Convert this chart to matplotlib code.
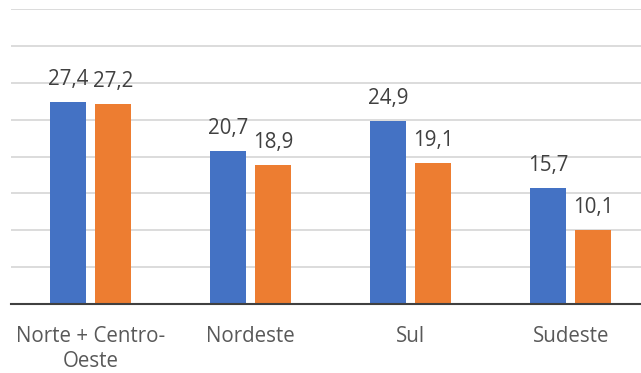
import numpy as np
import matplotlib
matplotlib.use("Agg")
import matplotlib.pyplot as plt

categories = ["Norte + Centro-\nOeste", "Nordeste", "Sul", "Sudeste"]
serie_a = [27.4, 20.7, 24.9, 15.7]
serie_b = [27.2, 18.9, 19.1, 10.1]
colors = ["#4472C4", "#ED7D31"]

plt.rcParams["font.family"] = ["Open Sans", "DejaVu Sans"]

W, H = 641, 373
fig = plt.figure(figsize=(W / 100, H / 100), dpi=100)
left, right, bottom, top = 10.7, 641, 373 - 304, 373 - 8.5
ax = fig.add_axes([left / W, bottom / H, (right - left) / W, (top - bottom) / H])

x = np.arange(len(categories))
width = 0.225
off = 0.1415

for vals, dx, c in [(serie_a, -off, colors[0]), (serie_b, off, colors[1])]:
    bars = ax.bar(x + dx, vals, width, color=c, zorder=3)
    for b, v in zip(bars, vals):
        ax.annotate(f"{v:.1f}".replace(".", ","),
                    (b.get_x() + b.get_width() / 2, v),
                    xytext=(0, 17), textcoords="offset pixels",
                    ha="center", va="baseline", fontsize=14.8, color="#404040")

# a bit of headroom so the top gridline is not clipped
ax.set_ylim(0, 40 * (top - bottom) / (304 - 9.3))
ax.set_xlim(-0.5, -0.5 + (right - left) / 160)
ax.set_yticks(np.arange(5, 41, 5))
ax.yaxis.grid(True, color="#D9D9D9", linewidth=1.3, zorder=0)
ax.tick_params(axis="y", left=False, labelleft=False)
ax.tick_params(axis="x", length=0, pad=16)
ax.set_xticks(x)
ax.set_xticklabels(categories, fontsize=14.8, color="#595959", linespacing=1.25)
for s in ["top", "right", "left"]:
    ax.spines[s].set_visible(False)
ax.spines["bottom"].set_color("#404040")
ax.spines["bottom"].set_linewidth(1.5)
ax.spines["bottom"].set_zorder(4)

fig.savefig("out.png", dpi=100)
